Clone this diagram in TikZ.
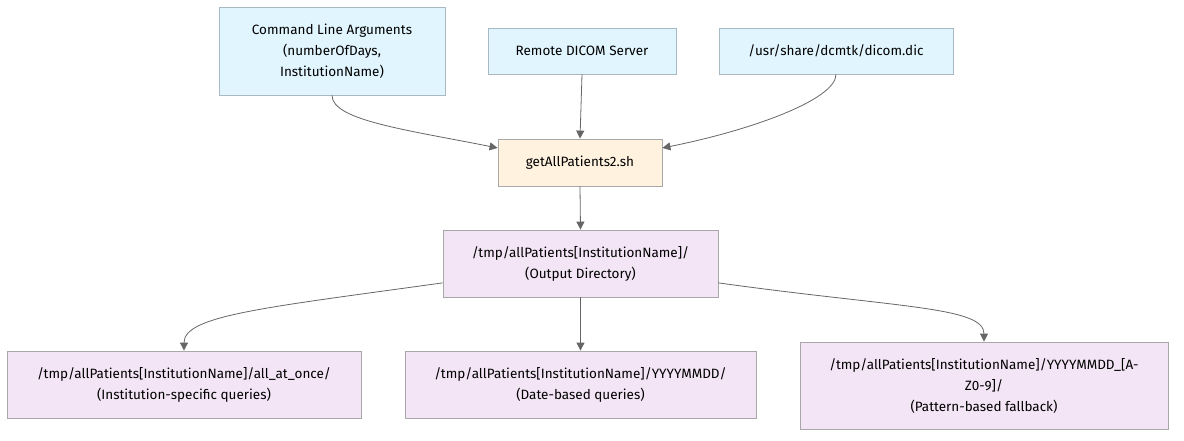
\documentclass[tikz,border=0pt]{standalone}
\usepackage{fontspec}
\setmainfont{Fira Sans}
\usepackage{xcolor}
\usetikzlibrary{arrows.meta}
\definecolor{inblue}{HTML}{E1F5FE}
\definecolor{inline}{HTML}{A9B9C4}
\definecolor{scriptfill}{HTML}{FFF3E0}
\definecolor{dirfill}{HTML}{F3E5F5}
\definecolor{boxline}{HTML}{A8A8A8}
\definecolor{edgegray}{HTML}{666666}
\begin{document}
\begin{tikzpicture}[x=1pt, y=-1pt,
    box/.style={draw=boxline, line width=0.8pt, align=center, inner sep=0pt,
      font=\fontsize{13.5}{21}\selectfont},
    inbox/.style={box, draw=inline, fill=inblue},
    scriptbox/.style={box, fill=scriptfill},
    dirbox/.style={box, fill=dirfill},
    flow/.style={draw=edgegray, line width=0.8pt, -{Triangle[length=8pt,width=8pt]}}]
  \useasboundingbox (0,0) rectangle (1184,441);
  \node[inbox, minimum width=226pt, minimum height=88pt] (args) at (332,51)
    {Command Line Arguments\\(numberOfDays,\\InstitutionName)};
  \node[inbox, minimum width=188pt, minimum height=46pt] (server) at (582,51) {Remote DICOM Server};
  \node[inbox, minimum width=234pt, minimum height=46pt] (dict) at (836,51) {/usr/share/dcmtk/dicom.dic};
  \node[scriptbox, minimum width=164pt, minimum height=47pt] (script) at (580,162.5) {getAllPatients2.sh};
  \node[dirbox, minimum width=275pt, minimum height=67pt] (outdir) at (580.5,263.5)
    {/tmp/allPatients[InstitutionName]/\\(Output Directory)};
  \node[dirbox, minimum width=354pt, minimum height=67pt] (allonce) at (184,384.5)
    {/tmp/allPatients[InstitutionName]/all\_at\_once/\\(Institution-specific queries)};
  \node[dirbox, minimum width=351pt, minimum height=67pt] (datedir) at (580.5,384.5)
    {/tmp/allPatients[InstitutionName]/YYYYMMDD/\\(Date-based queries)};
  \node[dirbox, minimum width=368pt, minimum height=87pt] (fallback) at (984,385.5)
    {/tmp/allPatients[InstitutionName]/YYYYMMDD\_[A-\\Z0-9]/\\(Pattern-based fallback)};

  \draw[flow] (args.south) .. controls +(0,25) and +(-90,-18) .. (script.170);
  \draw[flow] (server.south) -- (script.north);
  \draw[flow] (dict.south) .. controls +(0,25) and +(90,-18) .. (script.10);
  \draw[flow] (script.south) -- (outdir.north);
  \draw[flow] (outdir.188) .. controls +(-180,25) and +(0,-35) .. (allonce.north);
  \draw[flow] (outdir.south) -- (datedir.north);
  \draw[flow] (outdir.-8) .. controls +(180,25) and +(0,-35) .. (fallback.north);
\end{tikzpicture}
\end{document}
